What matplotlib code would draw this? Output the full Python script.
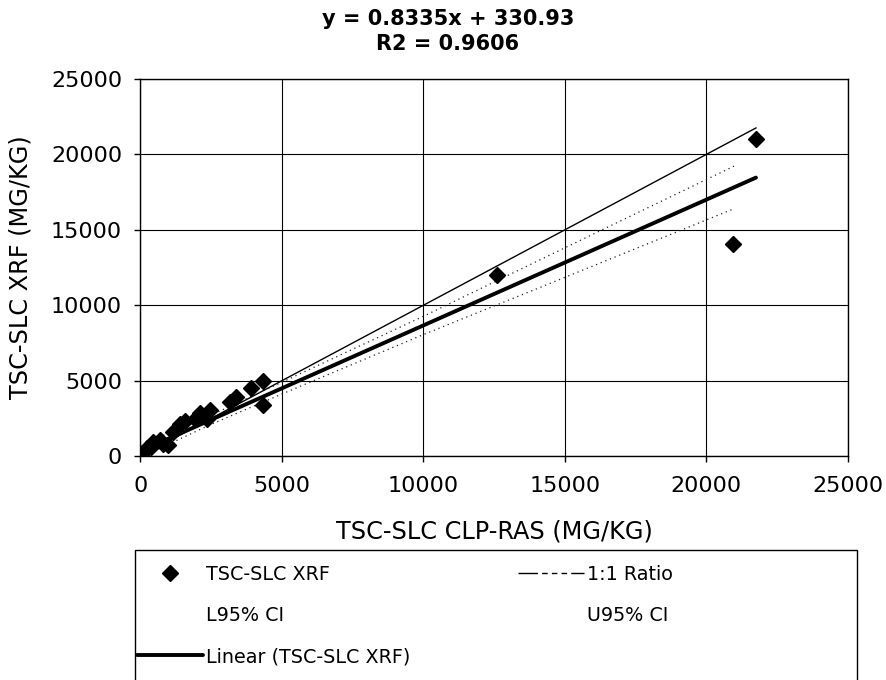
import matplotlib
matplotlib.use('Agg')
import matplotlib.pyplot as plt
from matplotlib.patches import Rectangle
from matplotlib.lines import Line2D

plt.rcParams["font.family"] = ["DejaVu Sans"]

# measured values (mg/kg)
clp_ras = [30, 150, 230, 400, 460, 700, 800, 990, 1170, 1400, 1580, 1930,
           2110, 2350, 2460, 3170, 3400, 3930, 4340, 4350, 12600, 20950, 21750]
xrf = [80, 300, 580, 600, 950, 1100, 800, 730, 1620, 2170, 2350, 2500,
       2840, 2440, 3060, 3600, 3940, 4500, 5000, 3380, 12000, 14050, 21000]

# regression y = 0.8335x + 330.93 and the 95% CI curves
slope, intercept = 0.8335, 330.93
ci_x = [0, 2500, 5000, 10000, 15000, 21000]
ci_upper = [740, 2720, 4900, 9270, 13810, 19240]
ci_lower = [-80, 2110, 4120, 8060, 11850, 16420]

ticks = [0, 5000, 10000, 15000, 20000, 25000]

fig = plt.figure(figsize=(8.87, 6.8), dpi=100)
ax = fig.add_axes([0.158, 0.329, 0.798, 0.555])

x_lo, x_hi = min(clp_ras), max(clp_ras)
pts, = ax.plot(clp_ras, xrf, linestyle='none', marker='D', markersize=8.5,
               color='black', zorder=5)
ax.plot([x_lo, x_hi], [x_lo, x_hi], color='black', lw=1.0, zorder=3)
ax.plot(ci_x, ci_lower, color='#222222', lw=0.9, linestyle=(0, (1, 3)), zorder=3)
ax.plot(ci_x, ci_upper, color='#222222', lw=0.9, linestyle=(0, (1, 3)), zorder=3)
fit, = ax.plot([x_lo, x_hi], [slope * x_lo + intercept, slope * x_hi + intercept],
               color='black', lw=2.8, solid_capstyle='round', zorder=4)

ax.set_xlim(0, 25000)
ax.set_ylim(0, 25000)
ax.set_xticks(ticks)
ax.set_yticks(ticks)
ax.grid(True, color='black', lw=0.8)
ax.set_axisbelow(True)
for s in ax.spines.values():
    s.set_linewidth(1.0)
ax.tick_params(direction='out', length=4, width=1, labelsize=16)
ax.tick_params(axis='y', pad=9)
ax.tick_params(axis='x', pad=10)

ax.set_xlabel('TSC-SLC CLP-RAS (MG/KG)', fontsize=17.3, labelpad=17)
ax.set_ylabel('TSC-SLC XRF (MG/KG)', fontsize=17.3, labelpad=13)

fig.text(0.505, 0.972, 'y = 0.8335x + 330.93', ha='center', va='center',
         fontsize=15, fontweight='bold')
fig.text(0.505, 0.935, 'R2 = 0.9606', ha='center', va='center',
         fontsize=15, fontweight='bold')

# legend box runs off the bottom of the page
fig.patches.append(Rectangle((135 / 887, -0.05), (857 - 135) / 887, 0.05 + 130 / 680,
                             transform=fig.transFigure, fill=False,
                             edgecolor='black', lw=1.0))
ratio_h = Line2D([], [], color='black', lw=1.0, linestyle=(0, (14, 3, 4, 3, 4, 3, 4, 3)))
blank = Line2D([], [], linestyle='none')
handles = [pts, blank, fit, ratio_h, blank]
labels = ['TSC-SLC XRF', 'L95% CI', 'Linear (TSC-SLC XRF)', '1:1 Ratio', 'U95% CI']
fig.legend(handles, labels, ncol=2,
           loc='upper left', bbox_to_anchor=(137 / 887, 1 - 565 / 680),
           frameon=False, fontsize=13.8, handlelength=3.45, handletextpad=0.15,
           columnspacing=5.6, labelspacing=1.15, borderaxespad=0, borderpad=0)

plt.savefig('out.png', dpi=100)
